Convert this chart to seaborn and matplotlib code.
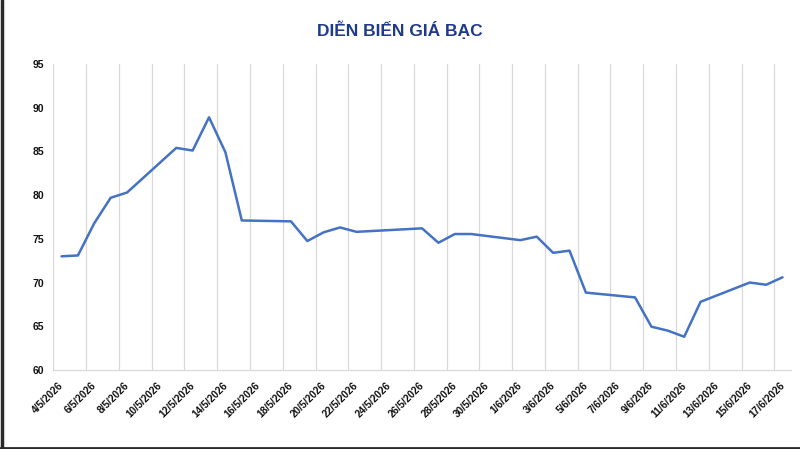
import pandas as pd
import matplotlib
matplotlib.use("Agg")
import matplotlib.pyplot as plt
import matplotlib.transforms as mtransforms
from matplotlib.lines import Line2D
import seaborn as sns

# Silver price series (trading days only)
dates = ["4/5/2026", "5/5/2026", "6/5/2026", "7/5/2026", "8/5/2026",
         "11/5/2026", "12/5/2026", "13/5/2026", "14/5/2026", "15/5/2026",
         "18/5/2026", "19/5/2026", "20/5/2026", "21/5/2026", "22/5/2026",
         "26/5/2026", "27/5/2026", "28/5/2026", "29/5/2026",
         "1/6/2026", "2/6/2026", "3/6/2026", "4/6/2026", "5/6/2026",
         "8/6/2026", "9/6/2026", "10/6/2026", "11/6/2026", "12/6/2026",
         "15/6/2026", "16/6/2026", "17/6/2026"]
prices = [73.0, 73.1, 76.8, 79.7, 80.3,
          85.4, 85.1, 88.9, 84.9, 77.1,
          77.0, 74.75, 75.75, 76.3, 75.8,
          76.2, 74.55, 75.55, 75.55,
          74.85, 75.25, 73.4, 73.65, 68.85,
          68.3, 64.95, 64.5, 63.8, 67.8,
          70.0, 69.75, 70.6]

tick_labels = ["4/5/2026", "6/5/2026", "8/5/2026", "10/5/2026", "12/5/2026",
               "14/5/2026", "16/5/2026", "18/5/2026", "20/5/2026", "22/5/2026",
               "24/5/2026", "26/5/2026", "28/5/2026", "30/5/2026", "1/6/2026",
               "3/6/2026", "5/6/2026", "7/6/2026", "9/6/2026", "11/6/2026",
               "13/6/2026", "15/6/2026", "17/6/2026"]
y_ticks = [60, 65, 70, 75, 80, 85, 90, 95]

TITLE = "DIỄN BIẾN GIÁ BẠC"

sns.set_style("white")
plt.rcParams['font.family'] = ['Liberation Sans', 'DejaVu Sans']

df = pd.DataFrame({
    'date': pd.to_datetime(dates, dayfirst=True) + pd.Timedelta(hours=12),
    'price': prices,
})
tick_pos = pd.to_datetime(tick_labels, dayfirst=True)

fig = plt.figure(figsize=(8, 4.49), dpi=100)
ax = fig.add_axes([0.0667, 0.176, 0.9217, 0.6815])

sns.lineplot(data=df, x='date', y='price', ax=ax, color='#4472C4', linewidth=1.8)

ax.set_xlim(pd.Timestamp("2026-05-04"), pd.Timestamp("2026-06-18"))
ax.set_ylim(60, 95)
ax.set_xticks(tick_pos)
ax.set_xticklabels(tick_labels, rotation=45, ha='right', rotation_mode='anchor',
                   fontsize=7.3, fontweight='bold', color='#111111')
ax.set_yticks(y_ticks)
ax.set_yticklabels([str(v) for v in y_ticks], fontsize=7.5, fontweight='bold', color='#111111')

ax.tick_params(axis='x', length=0, pad=4)
ax.tick_params(axis='y', length=0, pad=6.5)

# Excel puts the rotated date labels a bit right of and below the gridline
offset = mtransforms.ScaledTranslation(5 / 100, -5 / 100, fig.dpi_scale_trans)
for lbl in ax.get_xticklabels():
    lbl.set_transform(lbl.get_transform() + offset)

ax.grid(axis='x', color='#d9d9d9', linewidth=0.9)
ax.grid(axis='y', visible=False)
for side in ['left', 'right', 'top']:
    ax.spines[side].set_visible(False)
ax.spines['bottom'].set_color('#d9d9d9')
ax.spines['bottom'].set_linewidth(0.9)
ax.set_xlabel('')
ax.set_ylabel('')

fig.text(0.5, 0.933, TITLE, ha='center', va='center', fontsize=12.5,
         fontweight='bold', color='#1F3A8A')

# dark screenshot border on the left and bottom
fig.add_artist(Line2D([0.002, 0.002], [0, 1], transform=fig.transFigure, color='#2a2a2a', linewidth=2.5))
fig.add_artist(Line2D([0, 1], [0.003, 0.003], transform=fig.transFigure, color='#2a2a2a', linewidth=2))

fig.savefig("out.png", dpi=100)
